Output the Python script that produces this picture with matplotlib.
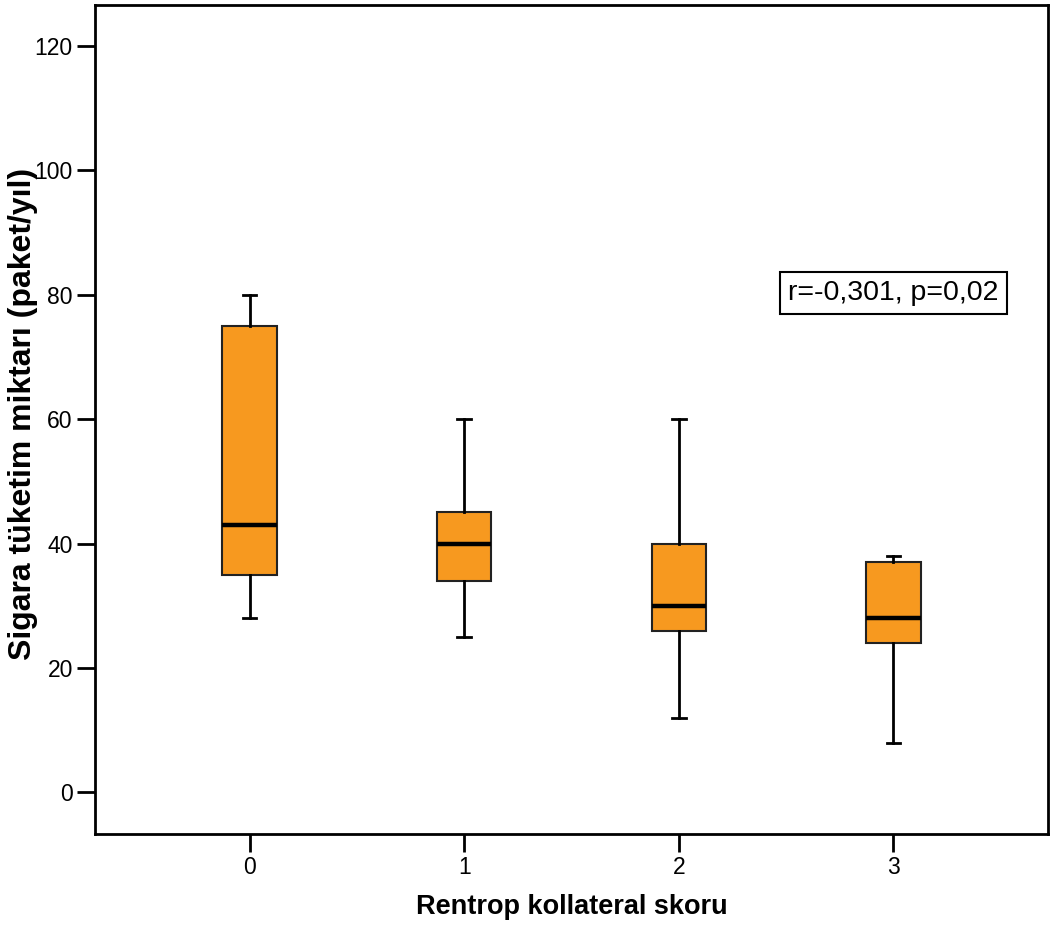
import matplotlib.pyplot as plt

# Rentrop kollateral skoru grupları
groups = [0, 1, 2, 3]
whislo = [28, 25, 12, 8]
q1 = [35, 34, 26, 24]
med = [43, 40, 30, 28]
q3 = [75, 45, 40, 37]
whishi = [80, 60, 60, 38]

yticks = [0, 20, 40, 60, 80, 100, 120]

stats = []
for g, lo, a, m, b, hi in zip(groups, whislo, q1, med, q3, whishi):
    stats.append({'label': str(g), 'whislo': lo, 'q1': a, 'med': m,
                  'q3': b, 'whishi': hi, 'fliers': []})

fig = plt.figure(figsize=(10.53, 9.4), dpi=100)
ax = fig.add_axes([0.0902, 0.1131, 0.9051, 0.8816])

ax.bxp(stats, positions=groups, widths=0.253, capwidths=0.0625,
       patch_artist=True, showfliers=False,
       boxprops=dict(facecolor='#F7991F', edgecolor='#222222', linewidth=1.5),
       medianprops=dict(color='black', linewidth=3.2),
       whiskerprops=dict(color='black', linewidth=2),
       capprops=dict(color='black', linewidth=2))

ax.set_xlim(-0.72, 3.72)
ax.set_ylim(-6.66, 126.6)
ax.set_yticks(yticks)
ax.set_xticks(groups)
ax.set_xticklabels([str(g) for g in groups])

sans = ['Liberation Sans', 'DejaVu Sans']
for lab in ax.get_xticklabels() + ax.get_yticklabels():
    lab.set_family(sans)
    lab.set_fontsize(16.5)

ax.tick_params(direction='out', length=13, width=2, pad=3)
for sp in ax.spines.values():
    sp.set_linewidth(2)

ax.set_xlabel('Rentrop kollateral skoru', fontsize=19.5, fontweight='bold',
              family=sans, labelpad=11)
fig.text(23 / 1053, 1 - 414 / 940, 'Sigara tüketim miktarı (paket/yıl)',
         fontsize=23, fontweight='bold', family=sans, rotation=90,
         ha='center', va='center')

ax.text(3.0, 80.3, 'r=-0,301, p=0,02', fontsize=20.5, family=sans,
        ha='center', va='center',
        bbox=dict(boxstyle='square,pad=0.28', facecolor='white',
                  edgecolor='black', linewidth=1.5))

fig.savefig('out.png', dpi=100)
